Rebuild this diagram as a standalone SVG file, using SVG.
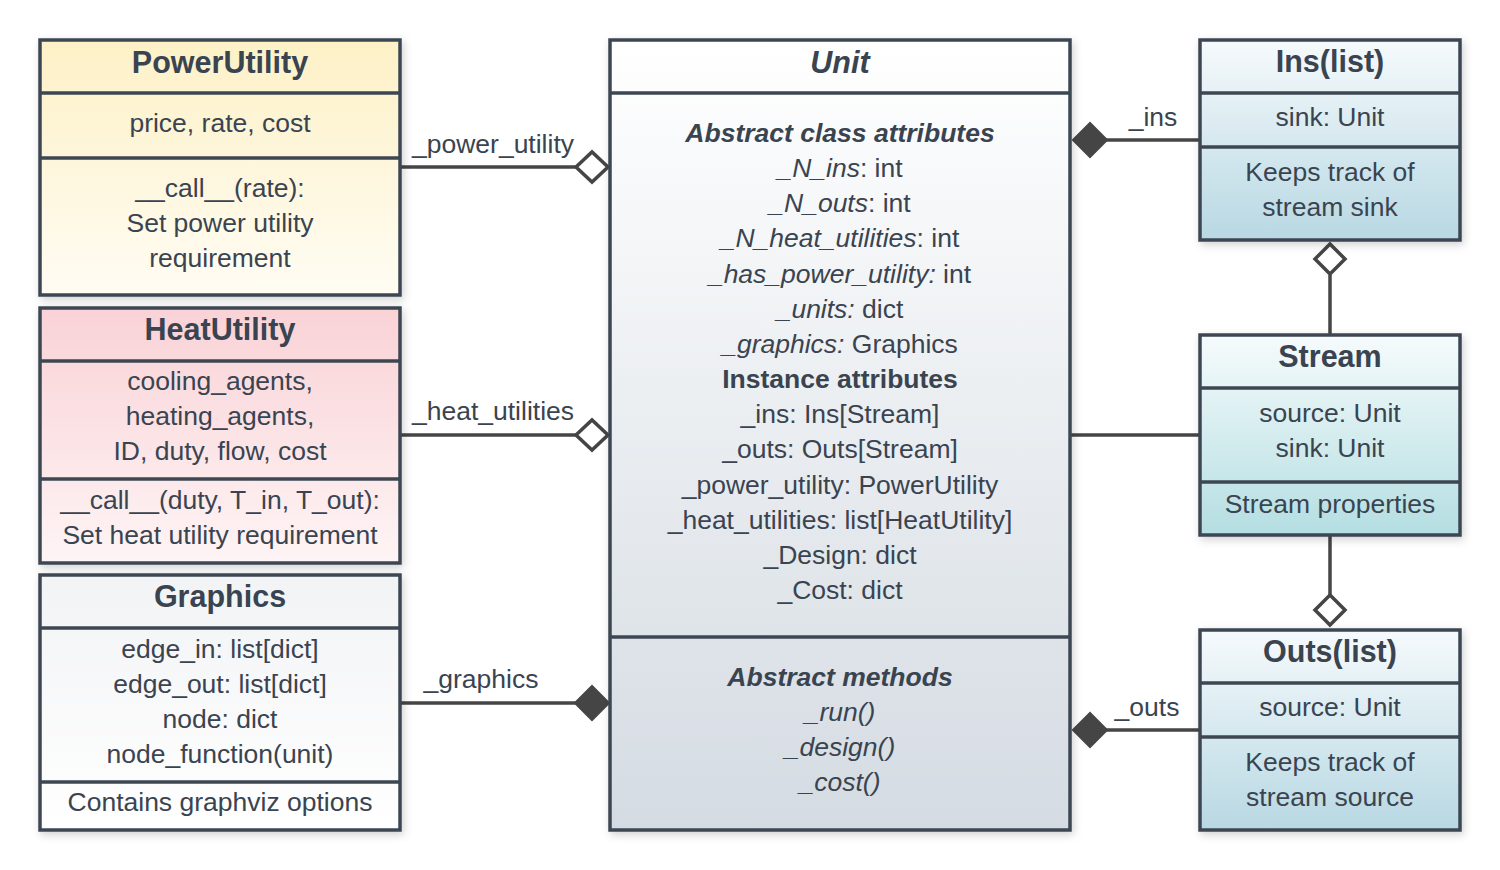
<svg xmlns="http://www.w3.org/2000/svg" width="1500" height="870" viewBox="0 0 1500 870">
<defs>
<linearGradient id="gPow" x1="0" y1="0" x2="0" y2="1"><stop offset="0" stop-color="#fdf1c6"/><stop offset="1" stop-color="#fffcf3"/></linearGradient>
<linearGradient id="gHeat" x1="0" y1="0" x2="0" y2="1"><stop offset="0" stop-color="#f9d2d6"/><stop offset="1" stop-color="#fef4f5"/></linearGradient>
<linearGradient id="gGra" x1="0" y1="0" x2="0" y2="1"><stop offset="0" stop-color="#f2f3f5"/><stop offset="1" stop-color="#ffffff"/></linearGradient>
<linearGradient id="gUnit" x1="0" y1="0" x2="0" y2="1"><stop offset="0" stop-color="#ffffff"/><stop offset="1" stop-color="#d4dbe2"/></linearGradient>
<linearGradient id="gList" x1="0" y1="0" x2="0" y2="1"><stop offset="0" stop-color="#f6fafc"/><stop offset="1" stop-color="#b8d8e3"/></linearGradient>
<linearGradient id="gStream" x1="0" y1="0" x2="0" y2="1"><stop offset="0" stop-color="#f6fbfc"/><stop offset="1" stop-color="#b4dee2"/></linearGradient>
<filter id="sh" x="-10%" y="-10%" width="120%" height="120%"><feDropShadow dx="2" dy="3" stdDeviation="4" flood-color="#000" flood-opacity="0.18"/></filter>
</defs>
<style>
.box{stroke:#3d4752;stroke-width:3.5;filter:url(#sh)}
.sep{stroke:#3d4752;stroke-width:3.5}
text{font-family:"Liberation Sans",Arial,sans-serif;fill:#3a4450;text-anchor:middle;font-size:26.5px}
.t{font-weight:bold;font-size:30.5px}
.ti{font-weight:bold;font-style:italic;font-size:30.5px}
.bi{font-weight:bold;font-style:italic}
.b{font-weight:bold}
.i{font-style:italic}
.c{stroke:#454545;stroke-width:3.5;fill:none}
.df{fill:#454545;stroke:#454545;stroke-width:2}
.dh{fill:#ffffff;stroke:#454545;stroke-width:3.5}
</style>
<rect width="1500" height="870" fill="#ffffff"/>

<g id="connectors">
<line class="c" x1="400" y1="167" x2="576" y2="167"/>
<polygon class="dh" points="576,167 592,152 608,167 592,182"/>
<text x="493" y="153">_power_utility</text>
<line class="c" x1="400" y1="435" x2="576" y2="435"/>
<polygon class="dh" points="576,435 592,420 608,435 592,450"/>
<text x="493" y="420">_heat_utilities</text>
<line class="c" x1="400" y1="703" x2="576" y2="703"/>
<polygon class="df" points="575,703 592,686 609,703 592,720"/>
<text x="481" y="688">_graphics</text>
<line class="c" x1="1106" y1="140" x2="1200" y2="140"/>
<polygon class="df" points="1073,140 1090,123 1107,140 1090,157"/>
<text x="1153" y="126">_ins</text>
<line class="c" x1="1106" y1="730" x2="1200" y2="730"/>
<polygon class="df" points="1073,730 1090,713 1107,730 1090,747"/>
<text x="1147" y="716">_outs</text>
<line class="c" x1="1070" y1="435" x2="1200" y2="435"/>
<line class="c" x1="1330" y1="275" x2="1330" y2="335"/>
<polygon class="dh" points="1330,244 1345,259 1330,274 1315,259"/>
<line class="c" x1="1330" y1="535" x2="1330" y2="595"/>
<polygon class="dh" points="1330,595 1345,610 1330,625 1315,610"/>
</g>

<g id="PowerUtility">
<rect class="box" x="40" y="40" width="360" height="255" fill="url(#gPow)"/>
<line class="sep" x1="40" y1="93" x2="400" y2="93"/>
<line class="sep" x1="40" y1="158" x2="400" y2="158"/>
<text class="t" x="220" y="73">PowerUtility</text>
<text x="220" y="132">price, rate, cost</text>
<text x="220" y="197">__call__(rate):</text>
<text x="220" y="232">Set power utility</text>
<text x="220" y="267">requirement</text>
</g>

<g id="HeatUtility">
<rect class="box" x="40" y="308" width="360" height="255" fill="url(#gHeat)"/>
<line class="sep" x1="40" y1="361" x2="400" y2="361"/>
<line class="sep" x1="40" y1="479" x2="400" y2="479"/>
<text class="t" x="220" y="340">HeatUtility</text>
<text x="220" y="390">cooling_agents,</text>
<text x="220" y="425">heating_agents,</text>
<text x="220" y="460">ID, duty, flow, cost</text>
<text x="220" y="509">__call__(duty, T_in, T_out):</text>
<text x="220" y="544">Set heat utility requirement</text>
</g>

<g id="Graphics">
<rect class="box" x="40" y="575" width="360" height="255" fill="url(#gGra)"/>
<line class="sep" x1="40" y1="628" x2="400" y2="628"/>
<line class="sep" x1="40" y1="782" x2="400" y2="782"/>
<text class="t" x="220" y="607">Graphics</text>
<text x="220" y="658">edge_in: list[dict]</text>
<text x="220" y="693">edge_out: list[dict]</text>
<text x="220" y="728">node: dict</text>
<text x="220" y="763">node_function(unit)</text>
<text x="220" y="811">Contains graphviz options</text>
</g>

<g id="Unit">
<rect class="box" x="610" y="40" width="460" height="790" fill="url(#gUnit)"/>
<line class="sep" x1="610" y1="93" x2="1070" y2="93"/>
<line class="sep" x1="610" y1="637" x2="1070" y2="637"/>
<text class="ti" x="840" y="73">Unit</text>
<text class="bi" x="840" y="142">Abstract class attributes</text>
<text x="840" y="177"><tspan class="i">_N_ins</tspan>: int</text>
<text x="840" y="212"><tspan class="i">_N_outs</tspan>: int</text>
<text x="840" y="247"><tspan class="i">_N_heat_utilities</tspan>: int</text>
<text x="840" y="283"><tspan class="i">_has_power_utility:</tspan> int</text>
<text x="840" y="318"><tspan class="i">_units:</tspan> dict</text>
<text x="840" y="353"><tspan class="i">_graphics:</tspan> Graphics</text>
<text class="b" x="840" y="388">Instance attributes</text>
<text x="840" y="423">_ins: Ins[Stream]</text>
<text x="840" y="458">_outs: Outs[Stream]</text>
<text x="840" y="494">_power_utility: PowerUtility</text>
<text x="840" y="529">_heat_utilities: list[HeatUtility]</text>
<text x="840" y="564">_Design: dict</text>
<text x="840" y="599">_Cost: dict</text>
<text class="bi" x="840" y="686">Abstract methods</text>
<text class="i" x="840" y="721">_run()</text>
<text class="i" x="840" y="756">_design()</text>
<text class="i" x="840" y="791">_cost()</text>
</g>

<g id="Ins">
<rect class="box" x="1200" y="40" width="260" height="200" fill="url(#gList)"/>
<line class="sep" x1="1200" y1="93" x2="1460" y2="93"/>
<line class="sep" x1="1200" y1="147" x2="1460" y2="147"/>
<text class="t" x="1330" y="72">Ins(list)</text>
<text x="1330" y="126">sink: Unit</text>
<text x="1330" y="181">Keeps track of</text>
<text x="1330" y="216">stream sink</text>
</g>

<g id="Stream">
<rect class="box" x="1200" y="335" width="260" height="200" fill="url(#gStream)"/>
<line class="sep" x1="1200" y1="388" x2="1460" y2="388"/>
<line class="sep" x1="1200" y1="482" x2="1460" y2="482"/>
<text class="t" x="1330" y="367">Stream</text>
<text x="1330" y="422">source: Unit</text>
<text x="1330" y="457">sink: Unit</text>
<text x="1330" y="513">Stream properties</text>
</g>

<g id="Outs">
<rect class="box" x="1200" y="630" width="260" height="200" fill="url(#gList)"/>
<line class="sep" x1="1200" y1="683" x2="1460" y2="683"/>
<line class="sep" x1="1200" y1="737" x2="1460" y2="737"/>
<text class="t" x="1330" y="662">Outs(list)</text>
<text x="1330" y="716">source: Unit</text>
<text x="1330" y="771">Keeps track of</text>
<text x="1330" y="806">stream source</text>
</g>
</svg>
